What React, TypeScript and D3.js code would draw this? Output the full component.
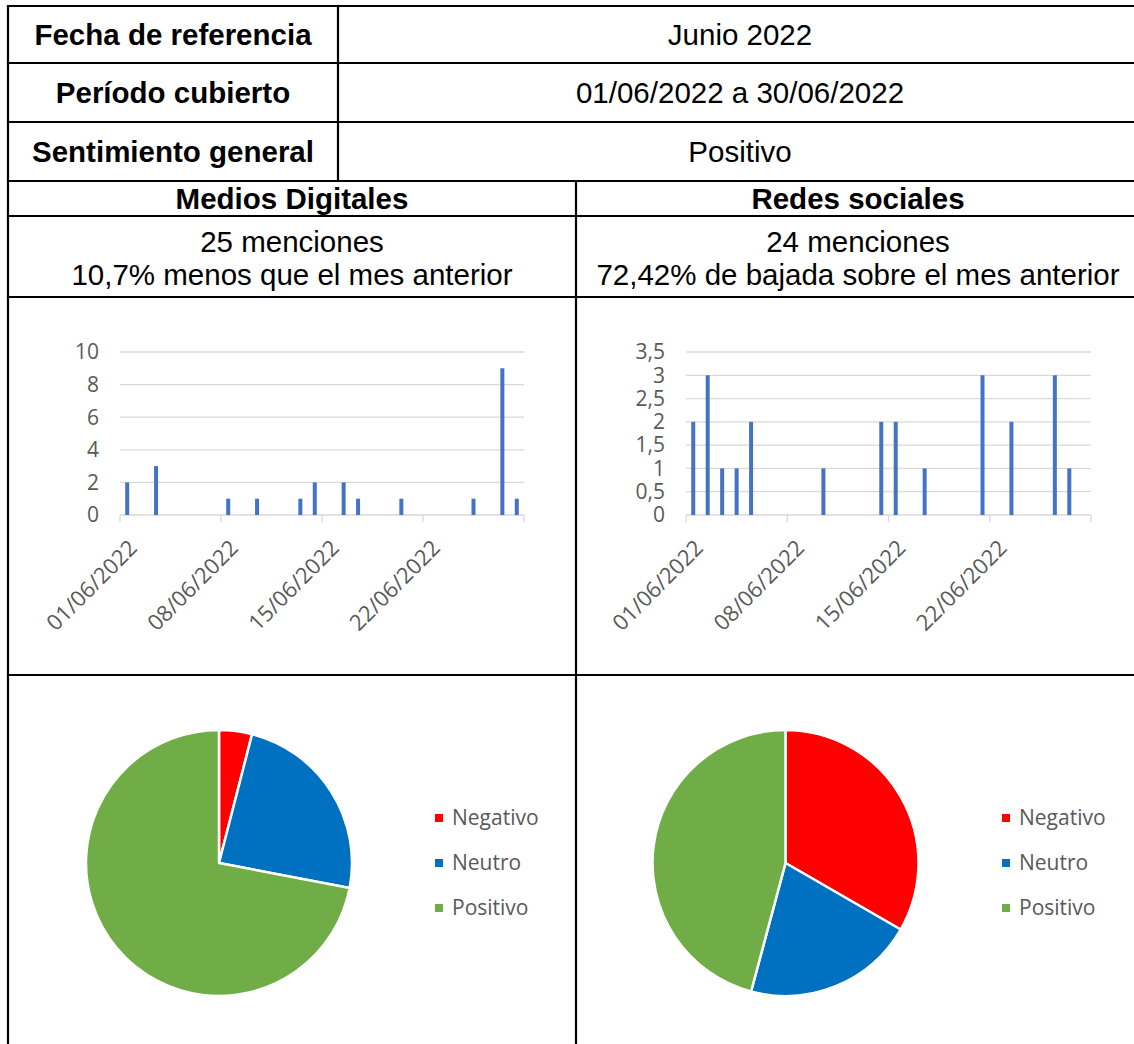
import React, { useEffect, useRef } from "react";
import * as d3 from "d3";

// menciones por día (solo días con menciones)
const mediosFechas = ["2022-06-01", "2022-06-03", "2022-06-08", "2022-06-10", "2022-06-13", "2022-06-14", "2022-06-16", "2022-06-17", "2022-06-20", "2022-06-25", "2022-06-27", "2022-06-28"];
const mediosMenciones = [2, 3, 1, 1, 1, 2, 2, 1, 1, 1, 9, 1];
const redesFechas = ["2022-06-01", "2022-06-02", "2022-06-03", "2022-06-04", "2022-06-05", "2022-06-10", "2022-06-14", "2022-06-15", "2022-06-17", "2022-06-21", "2022-06-23", "2022-06-26", "2022-06-27"];
const redesMenciones = [2, 3, 1, 1, 2, 1, 2, 2, 1, 3, 2, 3, 1];

const fechaEtiquetas = ["01/06/2022", "08/06/2022", "15/06/2022", "22/06/2022"];
const mediosYTicks = [0, 2, 4, 6, 8, 10];
const redesYTicks = [0, 0.5, 1, 1.5, 2, 2.5, 3, 3.5];

const sentimientos = ["Negativo", "Neutro", "Positivo"];
const colores = ["#FF0000", "#0070C0", "#70AD47"];
const mediosSentimiento = [1, 6, 18];
const redesSentimiento = [8, 5, 11];

const filasCabecera = [
  ["Fecha de referencia", "Junio 2022"],
  ["Período cubierto", "01/06/2022 a 30/06/2022"],
  ["Sentimiento general", "Positivo"],
];

const tableFont = "'Liberation Sans', Arial, sans-serif";
const chartFont = "'Open Sans', sans-serif";
const gris = "#595959";

const es = d3.formatLocale({ decimal: ",", thousands: ".", grouping: [3], currency: ["", "€"] });
const fmtNum = es.format("~g");
const parseISO = d3.timeParse("%Y-%m-%d");
const parseES = d3.timeParse("%d/%m/%Y");

function drawBars(g, fechas, valores, yTicks, left, right) {
  const top = 352, bottom = 515;
  const x = d3.scaleTime()
    .domain([new Date(2022, 5, 1), new Date(2022, 5, 29)])
    .range([left, right]);
  const y = d3.scaleLinear()
    .domain([0, d3.max(yTicks)])
    .range([bottom, top]);

  g.append("g").selectAll("line")
    .data(yTicks)
    .join("line")
      .attr("x1", left).attr("x2", right)
      .attr("y1", d => y(d)).attr("y2", d => y(d))
      .attr("stroke", "#D9D9D9").attr("stroke-width", 1.3);

  g.append("g").selectAll("text")
    .data(yTicks)
    .join("text")
      .attr("x", left - 21)
      .attr("y", d => y(d))
      .attr("dy", "0.35em")
      .attr("text-anchor", "end")
      .attr("font-family", chartFont)
      .attr("font-size", 21)
      .attr("fill", gris)
      .text(d => fmtNum(d));

  const ticks = d3.timeDay.every(7).range(x.domain()[0], d3.timeDay.offset(x.domain()[1], 1));
  g.append("g").selectAll("line")
    .data(ticks)
    .join("line")
      .attr("x1", d => x(d)).attr("x2", d => x(d))
      .attr("y1", bottom).attr("y2", bottom + 7)
      .attr("stroke", "#D9D9D9").attr("stroke-width", 1.3);

  g.append("g").selectAll("text")
    .data(fechaEtiquetas)
    .join("text")
      .attr("transform", d => `translate(${x(parseES(d)) + 13},${bottom + 29}) rotate(-45)`)
      .attr("dy", "0.35em")
      .attr("text-anchor", "end")
      .attr("font-family", chartFont)
      .attr("font-size", 22)
      .attr("fill", gris)
      .text(d => d);

  g.append("g")
    .attr("fill", "#4472C4")
    .selectAll("rect")
    .data(fechas.map((f, i) => ({ fecha: parseISO(f), valor: valores[i] })))
    .join("rect")
      .attr("x", d => x(d3.timeHour.offset(d.fecha, 12)) - 2)
      .attr("y", d => y(d.valor))
      .attr("width", 4)
      .attr("height", d => y(0) - y(d.valor));
}

function drawPie(g, valores, cx, cy, legendX) {
  const r = 133;
  const arcs = d3.pie().sort(null)(valores);
  const arc = d3.arc().innerRadius(0).outerRadius(r);

  g.append("g")
    .attr("transform", `translate(${cx},${cy})`)
    .selectAll("path")
    .data(arcs)
    .join("path")
      .attr("d", arc)
      .attr("fill", (d, i) => colores[i])
      .attr("stroke", "#fff")
      .attr("stroke-width", 2.5)
      .attr("stroke-linejoin", "round");

  const legend = g.append("g").selectAll("g")
    .data(sentimientos)
    .join("g")
      .attr("transform", (d, i) => `translate(${legendX},${818 + i * 45})`);
  legend.append("rect")
    .attr("x", 0).attr("y", -4)
    .attr("width", 8).attr("height", 8)
    .attr("fill", (d, i) => colores[i]);
  legend.append("text")
    .attr("x", 17)
    .attr("dy", "0.35em")
    .attr("font-family", chartFont)
    .attr("font-size", 21)
    .attr("fill", gris)
    .text(d => d);
}

const App = () => {
  const ref = useRef(null);

  useEffect(() => {
    const svg = d3.select(ref.current);
    svg.selectAll("*").remove();

    const L = 8, R = 1140, mid = 338, col = 576;
    const lines = [
      [L, 6, R, 6], [L, 63, R, 63], [L, 122, R, 122], [L, 181, R, 181],
      [L, 216, R, 216], [L, 297, R, 297], [L, 675, R, 675],
      [L, 6, L, 1060], [mid, 6, mid, 181], [col, 181, col, 1060], [R, 6, R, 1060],
    ];
    svg.append("g").selectAll("line")
      .data(lines)
      .join("line")
        .attr("x1", d => d[0]).attr("y1", d => d[1])
        .attr("x2", d => d[2]).attr("y2", d => d[3])
        .attr("stroke", "#000").attr("stroke-width", 2.2)
        .attr("stroke-linecap", "square");

    const rowY = [34.5, 92.5, 151.5];
    const head = svg.append("g").attr("font-family", tableFont).attr("font-size", 29.5).attr("fill", "#000");
    filasCabecera.forEach((fila, i) => {
      head.append("text")
        .attr("x", (L + mid) / 2).attr("y", rowY[i]).attr("dy", "0.35em")
        .attr("text-anchor", "middle").attr("font-weight", "bold")
        .text(fila[0]);
      head.append("text")
        .attr("x", 740).attr("y", rowY[i]).attr("dy", "0.35em")
        .attr("text-anchor", "middle")
        .text(fila[1]);
    });

    const secciones = [
      { titulo: "Medios Digitales", cx: (L + col) / 2, l1: `${d3.sum(mediosMenciones)} menciones`, l2: "10,7% menos que el mes anterior" },
      { titulo: "Redes sociales", cx: (col + R) / 2, l1: `${d3.sum(redesMenciones)} menciones`, l2: "72,42% de bajada sobre el mes anterior" },
    ];
    secciones.forEach(s => {
      head.append("text")
        .attr("x", s.cx).attr("y", 198.5).attr("dy", "0.35em")
        .attr("text-anchor", "middle").attr("font-weight", "bold")
        .text(s.titulo);
      head.append("text")
        .attr("x", s.cx).attr("y", 242).attr("dy", "0.35em")
        .attr("text-anchor", "middle")
        .text(s.l1);
      head.append("text")
        .attr("x", s.cx).attr("y", 275).attr("dy", "0.35em")
        .attr("text-anchor", "middle")
        .text(s.l2);
    });

    drawBars(svg.append("g"), mediosFechas, mediosMenciones, mediosYTicks, 120, 524);
    drawBars(svg.append("g"), redesFechas, redesMenciones, redesYTicks, 686, 1091);

    drawPie(svg.append("g"), mediosSentimiento, 219, 863, 435);
    drawPie(svg.append("g"), redesSentimiento, 785.5, 863, 1002);
  }, []);

  return (
    <svg ref={ref} width={1134} height={1044} style={{ position: "absolute", left: 0, top: 0, background: "#fff" }} />
  );
};

export default App;
